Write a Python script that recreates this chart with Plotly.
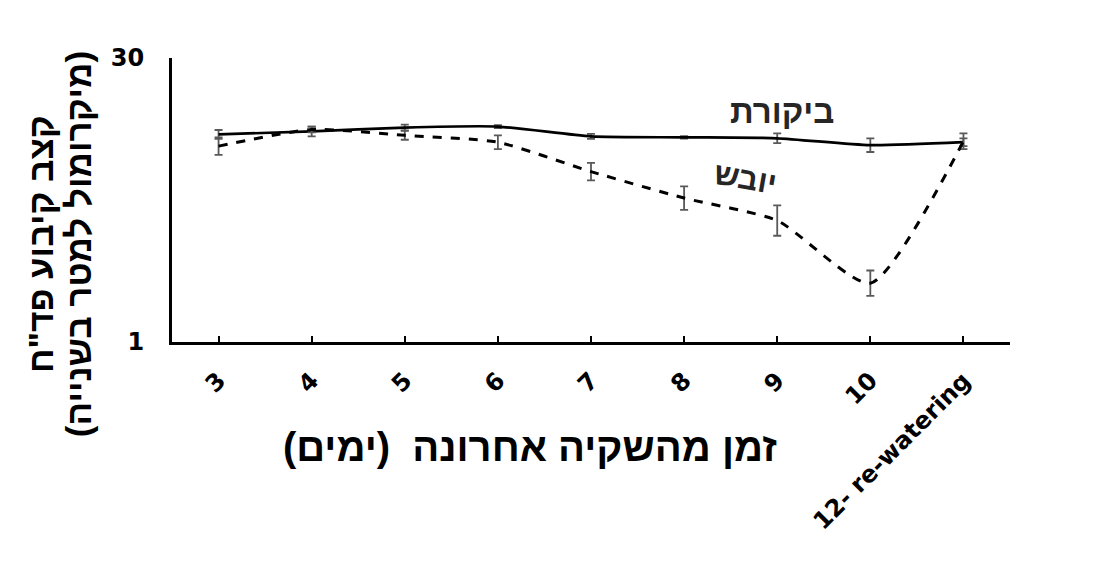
import plotly.graph_objects as go

categories = ["3", "4", "5", "6", "7", "8", "9", "10", "12- re-watering"]
control = [22.2, 22.5, 22.9, 23.0, 22.0, 21.9, 21.8, 21.1, 21.4]
control_err = [0.45, 0.5, 0.3, 0.15, 0.25, 0.12, 0.5, 0.7, 0.4]
dry = [21.0, 22.7, 22.1, 21.4, 18.4, 15.7, 13.4, 7.0, 21.5]
dry_err = [0.9, 0.3, 0.45, 0.7, 0.9, 1.2, 1.55, 1.3, 0.8]

y_ticks = [1, 30]
x_title = "\u200fזמן מהשקיה אחרונה\u00a0 (ימים)\u200f"
y_title_1 = "\u200fקצב קיבוע פד\"ח\u200f"
y_title_2 = "\u200f(מיקרומול למטר בשנייה)\u200f"
label_control = "ביקורת"
label_dry = "יובש"

FONT = "Liberation Sans"
TICK_FONT = "DejaVu Sans"
ERR_COLOR = "#595959"

fig = go.Figure()
fig.add_trace(go.Scatter(
    x=categories, y=control, mode="lines",
    line=dict(color="black", width=2.7, shape="spline", smoothing=0.6),
    error_y=dict(type="data", array=control_err, visible=True,
                 color=ERR_COLOR, thickness=1.8, width=4),
    showlegend=False,
))
fig.add_trace(go.Scatter(
    x=categories, y=dry, mode="lines",
    line=dict(color="black", width=3, dash="dash", shape="spline", smoothing=0.6),
    error_y=dict(type="data", array=dry_err, visible=True,
                 color=ERR_COLOR, thickness=1.8, width=4),
    showlegend=False,
))

fig.update_layout(
    width=1117, height=564,
    margin=dict(l=164, r=115, t=50, b=230),
    plot_bgcolor="white", paper_bgcolor="white",
    font=dict(family=FONT, color="black"),
    xaxis=dict(
        type="category", range=[-0.5, 8.5], automargin=False,
        showgrid=False, zeroline=False,
        showline=True, linecolor="black", linewidth=3,
        ticks="inside", ticklen=6, tickwidth=2, tickcolor="black",
        tickangle=-45, ticklabelstandoff=12,
        tickfont=dict(family=TICK_FONT, size=24, color="black", weight="bold"),
    ),
    yaxis=dict(
        range=[1, 30], tickvals=y_ticks, ticktext=[str(v) for v in y_ticks],
        automargin=False,
        showgrid=False, zeroline=False,
        showline=True, linecolor="black", linewidth=3,
        ticks="inside", ticklen=7, tickwidth=3, tickcolor="black",
        ticklabelstandoff=20,
        tickfont=dict(family=TICK_FONT, size=24, color="black", weight="bold"),
    ),
)

fig.add_annotation(
    text=x_title, xref="paper", yref="paper", x=0.427, y=-0.37,
    xanchor="center", yanchor="middle", showarrow=False,
    font=dict(family=FONT, size=40, color="black", weight="bold"),
)
fig.add_annotation(
    text=y_title_1, xref="paper", yref="paper", x=-0.1575, y=0.345,
    xanchor="center", yanchor="middle", showarrow=False, textangle=-90,
    font=dict(family=FONT, size=35, color="black", weight="bold"),
)
fig.add_annotation(
    text=y_title_2, xref="paper", yref="paper", x=-0.112, y=0.345,
    xanchor="center", yanchor="middle", showarrow=False, textangle=-90,
    font=dict(family=FONT, size=35, color="black", weight="bold"),
)
fig.add_annotation(
    text=label_control, x=6.05, y=24.5, xref="x", yref="y",
    showarrow=False, xanchor="center", yanchor="middle",
    font=dict(family=FONT, size=33, color="#262626", weight="bold"),
)
fig.add_annotation(
    text=label_dry, x=5.66, y=17.7, xref="x", yref="y",
    showarrow=False, xanchor="center", yanchor="middle", textangle=10,
    font=dict(family=FONT, size=31, color="#262626", weight="bold"),
)

fig.write_html("out.html")
